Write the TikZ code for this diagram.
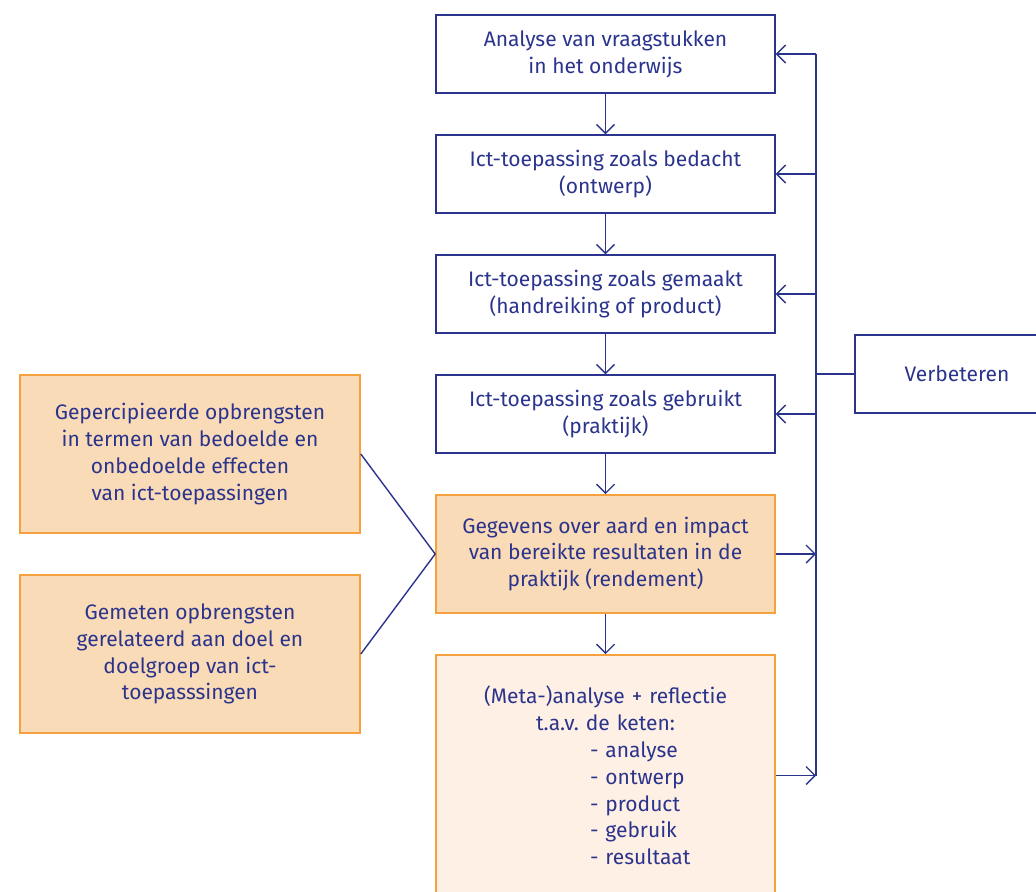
\documentclass[tikz,border=0pt]{standalone}
\usepackage{fontspec}
\setmainfont{Fira Sans}
\usepackage{tikz}
\usetikzlibrary{arrows.meta}

\definecolor{navy}{RGB}{43,52,140}
\definecolor{oranjerand}{RGB}{245,162,62}
\definecolor{oranjevlak}{RGB}{250,219,183}
\definecolor{lichtvlak}{RGB}{254,240,228}
\frenchspacing

\begin{document}
\begin{tikzpicture}[x=0.5pt,y=-0.5pt,
    font=\fontsize{10.5}{13.4}\selectfont\color{navy},
    lijn/.style={draw=navy,line width=0.7pt},
    pijl/.style={lijn,-{Straight Barb[length=4.5pt,width=9pt]}},
    ketenbox/.style={lijn,fill=white,minimum width=169.5pt,minimum height=39pt,align=center,inner sep=0pt},
    oranjebox/.style={draw=oranjerand,line width=0.8pt,fill=oranjevlak,minimum width=170pt,align=center,inner sep=0pt},
    lichtbox/.style={draw=oranjerand,line width=0.8pt,fill=lichtvlak,minimum width=169.5pt,inner sep=0pt}]
  \useasboundingbox (0,0) rectangle (1036,891);
  \clip (0,0) rectangle (1036,891);
  % keten
  \node[ketenbox] (analyse) at (605.5,54)  {Analyse van vraagstukken\\in het onderwijs};
  \node[ketenbox] (ontwerp) at (605.5,174) {Ict-toepassing zoals bedacht\\(ontwerp)};
  \node[ketenbox] (gemaakt) at (605.5,294) {Ict-toepassing zoals gemaakt\\(handreiking of product)};
  \node[ketenbox] (gebruik) at (605.5,414) {Ict-toepassing zoals gebruikt\\(praktijk)};
  \node[oranjebox,minimum width=169.5pt,minimum height=59pt] (gegevens) at (605.5,554)
       {Gegevens over aard en impact\\van bereikte resultaten in de\\praktijk (rendement)};
  \node[lichtbox,minimum height=120.5pt,text width=169.5pt,align=left] (meta) at (605.5,775.5)
       {\makebox[169.5pt][c]{(Meta-)analyse + reflectie}\\
        \makebox[169.5pt][c]{t.a.v. de keten:}\\
        \hspace*{77pt}- analyse\\
        \hspace*{77pt}- ontwerp\\
        \hspace*{77pt}- product\\
        \hspace*{77pt}- gebruik\\
        \hspace*{77pt}- resultaat};
  % opbrengsten
  \node[oranjebox,minimum height=79pt] (gepercipieerd) at (190,454)
       {Gepercipieerde opbrengsten\\in termen van bedoelde en\\onbedoelde effecten\\van ict-toepassingen};
  \node[oranjebox,minimum height=79pt] (gemeten) at (190,654)
       {Gemeten opbrengsten\\gerelateerd aan doel en\\doelgroep van ict-\\toepasssingen};
  % verbeteren
  \node[ketenbox,minimum width=102pt] (verbeteren) at (957,374) {Verbeteren};
  \coordinate (terug) at (816,374);
  % pijlen in de keten
  \draw[pijl] (analyse) -- (ontwerp);
  \draw[pijl] (ontwerp) -- (gemaakt);
  \draw[pijl] (gemaakt) -- (gebruik);
  \draw[pijl] (gebruik) -- (gegevens);
  \draw[pijl] (gegevens) -- (meta);
  \draw[lijn] (gepercipieerd.east) -- (gegevens.west);
  \draw[lijn] (gemeten.east) -- (gegevens.west);
  % terugkoppeling
  \draw[lijn] (verbeteren.west) -- (terug);
  \draw[lijn] (terug |- analyse.east) -- (terug |- meta.east);
  \foreach \doel in {analyse,ontwerp,gemaakt,gebruik}
    \draw[pijl] (terug |- \doel.east) -- (\doel.east);
  \draw[pijl] (gegevens.east) -- (terug |- gegevens.east);
  \draw[pijl] (meta.east) -- (terug |- meta.east);
\end{tikzpicture}
\end{document}
